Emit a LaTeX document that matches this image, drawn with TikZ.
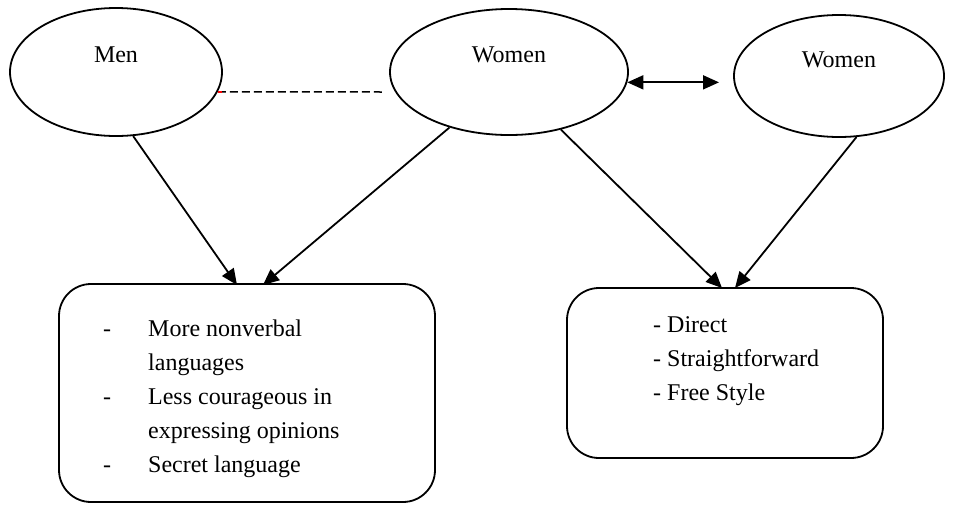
\documentclass[tikz,border=0pt]{standalone}
\usepackage{fontspec}
\setmainfont{Liberation Serif}
\usetikzlibrary{arrows.meta,shapes.geometric}
\begin{document}
\begin{tikzpicture}[x=1pt,y=-1pt,
  oval/.style={draw=black,line width=1.8pt,ellipse,inner sep=0pt},
  roundbox/.style={draw=black,line width=1.8pt,rounded corners=32pt,inner sep=0pt},
  lbl/.style={inner sep=0pt,font=\fontsize{24}{34}\selectfont},
  link/.style={line width=1.8pt,-{Triangle[length=16pt,width=14pt]}}]
\useasboundingbox (0,0) rectangle (955,504);
% ellipses
\node[oval,minimum width=212pt,minimum height=128pt] (men) at (116,72) {};
\node[oval,minimum width=238pt,minimum height=126pt] (wmid) at (509,72) {};
\node[oval,minimum width=210pt,minimum height=122pt] (wright) at (839,76) {};
\node[lbl,anchor=base] (menT) at (116,62) {Men};
\node[lbl,anchor=base] (wmidT) at (509,62) {Women};
\node[lbl,anchor=base] (wrightT) at (839,67) {Women};
% boxes
\node[roundbox,minimum width=376pt,minimum height=218pt] (lbox) at (247,393) {};
\node[roundbox,minimum width=316pt,minimum height=170pt] (rbox) at (725,373) {};
\node[lbl,anchor=base west] (lt) at (103,336) {\begin{tabular}[t]{@{}p{45pt}@{}l@{}}
- & More nonverbal\\
  & languages\\
- & Less courageous in\\
  & expressing opinions\\
- & Secret language
\end{tabular}};
\node[lbl,anchor=base west] (rt) at (653,332) {\begin{tabular}[t]{@{}l@{}}
- Direct\\
- Straightforward\\
- Free Style
\end{tabular}};
% connector ends
\coordinate (dashend) at (383,92);
\coordinate (dblend) at (719,83);
\coordinate (t1) at (237,285);
\coordinate (t2) at (263,285);
\coordinate (t3) at (722,288);
\coordinate (t4) at (735,288);
% dashed link
\draw[line width=1.5pt,dash pattern=on 8pt off 4pt] (men.-11) -- (dashend);
\draw[red,line width=1.5pt] (men.-11) -- ++(4,0);
% double arrow
\draw[line width=1.8pt,{Triangle[length=16pt,width=14pt]}-{Triangle[length=16pt,width=14pt]}] (wmid.-5) -- (dblend |- wmid.-5);
% arrows
\draw[link] (men.-75) -- (t1);
\draw[link] (wmid.-137) -- (t2);
\draw[link] (wmid.-48) -- (t3);
\draw[link] (wright.-74) -- (t4);
\end{tikzpicture}
\end{document}
